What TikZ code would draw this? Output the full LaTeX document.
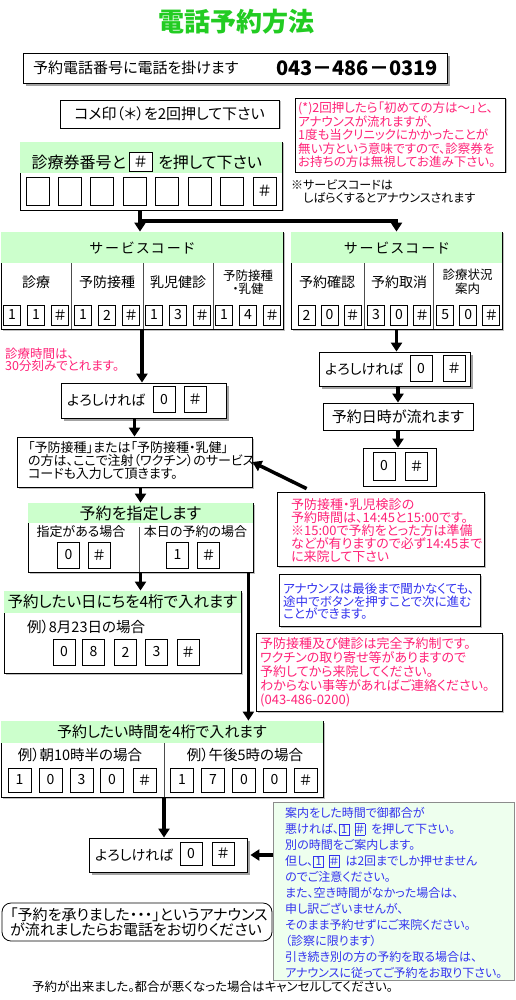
\documentclass[tikz,border=0pt]{standalone}
\usepackage{fontspec}
\setmainfont{Noto Sans CJK JP}[RawFeature=+palt]
\usetikzlibrary{arrows.meta,shadows,positioning}
\definecolor{hdrgreen}{HTML}{CCFFCC}
\definecolor{notegreen}{HTML}{EEFFEE}
\definecolor{notepink}{HTML}{FF2277}
\definecolor{noteblue}{HTML}{3333EE}
\definecolor{titlegreen}{HTML}{22CC22}
\newcommand\fsz[2]{\fontsize{#1}{#2}\selectfont}
\setlength\fboxsep{1.2pt}
\setlength\fboxrule{0.6pt}
\newcommand\ikey[1]{\fbox{\fsz{11}{11}\makebox[7pt]{#1}}}
\def\headfill(#1)(#2){\fill[hdrgreen] ([shift={(0.6,0.6)}]#1.north west) rectangle ([shift={(-0.6,#2)}]#1.north east);}
\tikzset{
  panel/.style={draw, line width=0.8pt, fill=white, inner sep=0pt},
  shade/.style={drop shadow={shadow xshift=3pt, shadow yshift=-3pt, fill=black!60, opacity=0.6}},
  lightshade/.style={drop shadow={shadow xshift=1.5pt, shadow yshift=-1.5pt, fill=black!50, opacity=0.5}},
  keybox/.style={draw, line width=0.7pt, fill=white, inner sep=0pt, minimum width=17pt, minimum height=20pt, font=\fsz{14}{14}},
  bigkey/.style={keybox, minimum width=22pt, minimum height=26pt, font=\fsz{14}{14}},
  flow/.style={line width=3.5pt, -{Triangle[width=11pt,length=9pt]}},
  txt/.style={inner sep=0pt, font=\fsz{14}{14}},
  notetxt/.style={inner sep=0pt, anchor=west, align=left},
  divider/.style={line width=0.6pt, black!70},
}
\begin{document}
\begin{tikzpicture}[x=1pt,y=-1pt]
\useasboundingbox (0,0) rectangle (516,1000);
%%%%% title %%%%%
\node[font=\fsz{26}{26}\bfseries, text=titlegreen] (title) at (236,22) {電話予約方法};

%%%%% phone %%%%%
\node[panel, shade, minimum width=424pt, minimum height=30pt] (phone) at (235,68) {};
\node[txt, anchor=west, font=\fsz{15}{15}] (phonelab) at (33,68) {予約電話番号に電話を掛けます};
\node[txt, anchor=east, font=\fsz{20}{20}\bfseries] (phonenum) at (438,68) {043－486－0319};

\node[panel, lightshade, minimum width=219pt, minimum height=28pt, font=\fsz{15}{15}] (star) at (169.5,114) {コメ印（＊）を2回押して下さい};

\node[panel, lightshade, minimum width=210pt, minimum height=74pt] (firstnote) at (400,135) {};
\node[notetxt, text=notepink, font=\fsz{12.5}{13.5}] (firsttxt) at (298,135) {(*)2回押したら「初めての方は～」と、\\アナウンスが流れますが、\\1度も当クリニックにかかったことが\\無い方という意味ですので、診察券を\\お持ちの方は無視してお進み下さい。};

%%%%% card number %%%%%
\node[panel, lightshade, minimum width=262pt, minimum height=68pt] (card) at (151,176) {};
\headfill(card)(31)
\node[txt, anchor=east, font=\fsz{16}{16}] (cardlab) at (126,162) {診療券番号と};
\node[keybox, minimum width=23pt, minimum height=19pt, font=\fsz{15}{15}] (cardhash) at (140.5,162) {＃};
\node[txt, anchor=west, font=\fsz{16}{16}] (cardlabb) at (158,162) {を押して下さい};
\foreach \i in {0,...,6}
  \node[keybox, minimum width=23pt, minimum height=28pt] (digit\i) at (37.5+32.4*\i,191) {};
\node[keybox, minimum width=23pt, minimum height=28pt, font=\fsz{15}{15}] (digit7) at (264.5,191) {＃};
\node[notetxt, font=\fsz{12}{13}] (svcnote) at (291,191.5) {※サービスコードは\\\hspace{1em}しばらくするとアナウンスされます};

%%%%% service codes %%%%%
\node[panel, lightshade, minimum width=282pt, minimum height=97pt] (svcL) at (142,280.5) {};
\headfill(svcL)(31)
\node[txt] (svcLhead) at (142,248) {サ\,ー\,ビ\,ス\,コ\,ー\,ド};
\foreach \x in {71,143,213} \draw[divider] (\x,263) -- (\x,329);
\node[txt] (labLa) at (36,282) {診療};
\node[txt] (labLb) at (107,282) {予防接種};
\node[txt] (labLc) at (178,282) {乳児健診};
\node[txt, font=\fsz{12.5}{13.5}, align=center] (labLd) at (248,282) {予防接種\\・乳健};
\foreach \c/\d [count=\n] in {36/1,107/2,178/3,248/4} {
  \node[keybox] (kL\n-a) at (\c-24,315) {1};
  \node[keybox] (kL\n-b) at (\c,315) {\d};
  \node[keybox] (kL\n-c) at (\c+24,315) {＃};
}

\node[panel, lightshade, minimum width=211pt, minimum height=97pt] (svcR) at (396.5,280.5) {};
\headfill(svcR)(31)
\node[txt] (svcRhead) at (396.5,248) {サ\,ー\,ビ\,ス\,コ\,ー\,ド};
\foreach \x in {364,433} \draw[divider] (\x,263) -- (\x,329);
\node[txt] (labRa) at (327,282) {予約確認};
\node[txt] (labRb) at (399,282) {予約取消};
\node[txt, font=\fsz{12.5}{13.5}, align=center] (labRc) at (467.5,282) {診療状況\\案内};
\foreach \c/\d [count=\n] in {329.5/2,399/3,468.3/5} {
  \node[keybox] (kR\n-a) at (\c-23,315) {\d};
  \node[keybox] (kR\n-b) at (\c,315) {0};
  \node[keybox] (kR\n-c) at (\c+23,315) {＃};
}

\coordinate (fork) at (140,221);
\draw[line width=3.5pt] (card.south -| fork) -- (fork);
\draw[flow] (fork) -- (fork |- svcL.north);
\draw[flow] (fork) -| (svcR.north);

%%%%% right branch %%%%%
\node[panel, shade, minimum width=151pt, minimum height=34pt] (okR) at (394.5,369) {};
\node[txt, anchor=west, font=\fsz{14}{14}] (okRlab) at (325,369) {よろしければ};
\node[bigkey] (okR0) at (421,368.5) {0};
\node[bigkey] (okRh) at (454,368.5) {＃};
\node[panel, minimum width=150pt, minimum height=27pt, font=\fsz{15}{15}] (dtR) at (398,416.5) {予約日時が流れます};
\node[panel, minimum width=73pt, minimum height=38pt] (zR) at (399.5,467) {};
\node[bigkey, minimum height=28pt] (zR0) at (384,466) {0};
\node[bigkey, minimum height=28pt] (zRh) at (416.5,466) {＃};
\draw[flow] (svcR.south) -- (svcR.south |- okR.north);
\draw[flow] (okR.south -| dtR.north) -- (dtR.north);
\draw[flow] (dtR.south) -- (dtR.south |- zR.north);

%%%%% left branch %%%%%
\node[notetxt, text=notepink, font=\fsz{12.5}{12.5}] (slotnote) at (5,360) {診療時間は、\\30分刻みでとれます。};
\node[panel, shade, minimum width=165pt, minimum height=35pt] (okL) at (143.5,400.5) {};
\node[txt, anchor=west, font=\fsz{14}{14}] (okLlab) at (67,400) {よろしければ};
\node[bigkey] (okL0) at (164,399.5) {0};
\node[bigkey] (okLh) at (195,399.5) {＃};
\draw[flow] (svcL.south) -- (svcL.south |- okL.north);

\node[panel, lightshade, minimum width=235pt, minimum height=50pt] (vacc) at (134.5,462) {};
\node[notetxt, font=\fsz{13}{13}] (vacctxt) at (28,461) {「予防接種」または「予防接種・乳健」\\の方は、ここで注射（ワクチン）のサービス\\コードも入力して頂きます。};
\draw[flow] (okL.south -| vacc.north) -- (vacc.north);

\node[panel, lightshade, minimum width=207pt, minimum height=74pt] (slotvacc) at (380.5,529) {};
\node[notetxt, text=notepink, font=\fsz{13}{13}] (slotvacctxt) at (291,531) {予防接種・乳児検診の\\予約時間は、14:45と15:00です。\\※15:00で予約をとった方は準備\\などが有りますので必ず14:45まで\\に来院して下さい};
\draw[flow] ([shift={(30,-3)}]slotvacc.north west) -- (vacc.east);

%%%%% reservation %%%%%
\node[panel, lightshade, minimum width=225pt, minimum height=69pt] (resv) at (140.5,537.5) {};
\headfill(resv)(20)
\node[txt, font=\fsz{16}{16}] (resvhead) at (140.5,513) {予約を指定します};
\draw[divider] (139,527) -- (139,572);
\node[txt, font=\fsz{13}{13}] (resva) at (81,532) {指定がある場合};
\node[txt, font=\fsz{13}{13}] (resvb) at (195.5,532) {本日の予約の場合};
\node[bigkey] (resv0) at (68.5,555) {0};
\node[bigkey] (resvh) at (99,555) {＃};
\node[bigkey] (resv1) at (177.5,555) {1};
\node[bigkey] (resvk) at (208.5,555) {＃};
\draw[flow] (vacc.south -| resv.north) -- (resv.north);

\node[panel, lightshade, minimum width=237pt, minimum height=82pt] (datebox) at (122.5,632) {};
\headfill(datebox)(22)
\node[txt, font=\fsz{15.5}{15.5}] (datehead) at (122.5,602) {予約したい日にちを4桁で入れます};
\node[txt, anchor=west, font=\fsz{14.5}{14.5}] (dateex) at (27,627) {例）8月23日の場合};
\foreach \x/\d [count=\n] in {64/0,93.5/8,125.5/2,156.5/3,188/＃}
  \node[bigkey] (dk\n) at (\x,652) {\d};
\draw[flow] (resv.south) -- (resv.south |- datebox.north);

\node[panel, lightshade, minimum width=201pt, minimum height=52pt] (skipnote) at (379.5,600) {};
\node[notetxt, text=noteblue, font=\fsz{12.5}{12.5}] (skiptxt) at (283,601.5) {アナウンスは最後まで聞かなくても、\\途中でボタンを押すことで次に進む\\ことができます。};

\node[panel, lightshade, minimum width=246pt, minimum height=78pt] (prenote) at (379,672) {};
\node[notetxt, text=notepink, font=\fsz{13}{14}] (pretxt) at (260,672) {予防接種及び健診は完全予約制です。\\ワクチンの取り寄せ等がありますので\\予約してから来院してください。\\わからない事等があればご連絡ください。\\(043-486-0200)};

%%%%% time %%%%%
\node[panel, lightshade, minimum width=322pt, minimum height=76pt] (timebox) at (162,759) {};
\headfill(timebox)(22)
\node[txt, font=\fsz{15}{15}] (timehead) at (162,732) {予約したい時間を4桁で入れます};
\draw[divider] (164,743) -- (164,797);
\node[txt, font=\fsz{14.5}{14.5}] (timea) at (80,755) {例）朝10時半の場合};
\node[txt, font=\fsz{14.5}{14.5}] (timeb) at (245,755) {例）午後5時の場合};
\foreach \x/\d [count=\n] in {19.5/1,50.5/0,81.5/3,112/0,144.5/＃}
  \node[keybox, minimum width=23pt, minimum height=24pt] (tA\n) at (\x,780) {\d};
\foreach \x/\d [count=\n] in {182/1,213/7,244/0,274.5/0,305.5/＃}
  \node[keybox, minimum width=23pt, minimum height=24pt] (tB\n) at (\x,780) {\d};
\draw[flow] ([xshift=-5pt]resv.south east) -- ([xshift=-5pt]resv.south east |- timebox.north);

\node[panel, shade, minimum width=158pt, minimum height=34pt] (okT) at (168,855) {};
\node[txt, anchor=west, font=\fsz{14}{14}] (okTlab) at (95,855) {よろしければ};
\node[bigkey, minimum height=23pt] (okT0) at (191,853.5) {0};
\node[bigkey, minimum height=23pt] (okTh) at (223,853.5) {＃};
\draw[flow] ([xshift=2pt]timebox.south) -- ([xshift=2pt]timebox.south |- okT.north);

\node[panel, draw=black!45, fill=notegreen, minimum width=241pt, minimum height=178pt] (retry) at (394,891) {};
\node[notetxt, text=noteblue, font=\fsz{12}{16}] (retrytxt) at (285,893) {案内をした時間で御都合が\\悪ければ、\ikey{1}\hspace{5pt}\ikey{＃}\hspace{6pt}を押して下さい。\\別の時間をご案内します。\\但し、\ikey{1}\hspace{5pt}\ikey{＃}\hspace{6pt}は2回までしか押せません\\のでご注意ください。\\また、空き時間がなかった場合は、\\申し訳ございませんが、\\そのまま予約せずにご来院ください。\\（診察に限ります）\\引き続き別の方の予約を取る場合は、\\アナウンスに従ってご予約をお取り下さい。};
\draw[flow] (retry.west |- okT.east) -- ([xshift=3pt]okT.east);

%%%%% end %%%%%
\node[panel, rounded corners=9pt, minimum width=270pt, minimum height=38pt] (endbox) at (137,922) {};
\node[notetxt, font=\fsz{15}{15}] (endtxt) at (10,922.5) {「予約を承りました・・・」というアナウンス\\が流れましたらお電話をお切りください};
\node[notetxt, font=\fsz{12.5}{12.5}] (footer) at (32,987) {予約が出来ました。都合が悪くなった場合はキャンセルしてください。};
\end{tikzpicture}
\end{document}
